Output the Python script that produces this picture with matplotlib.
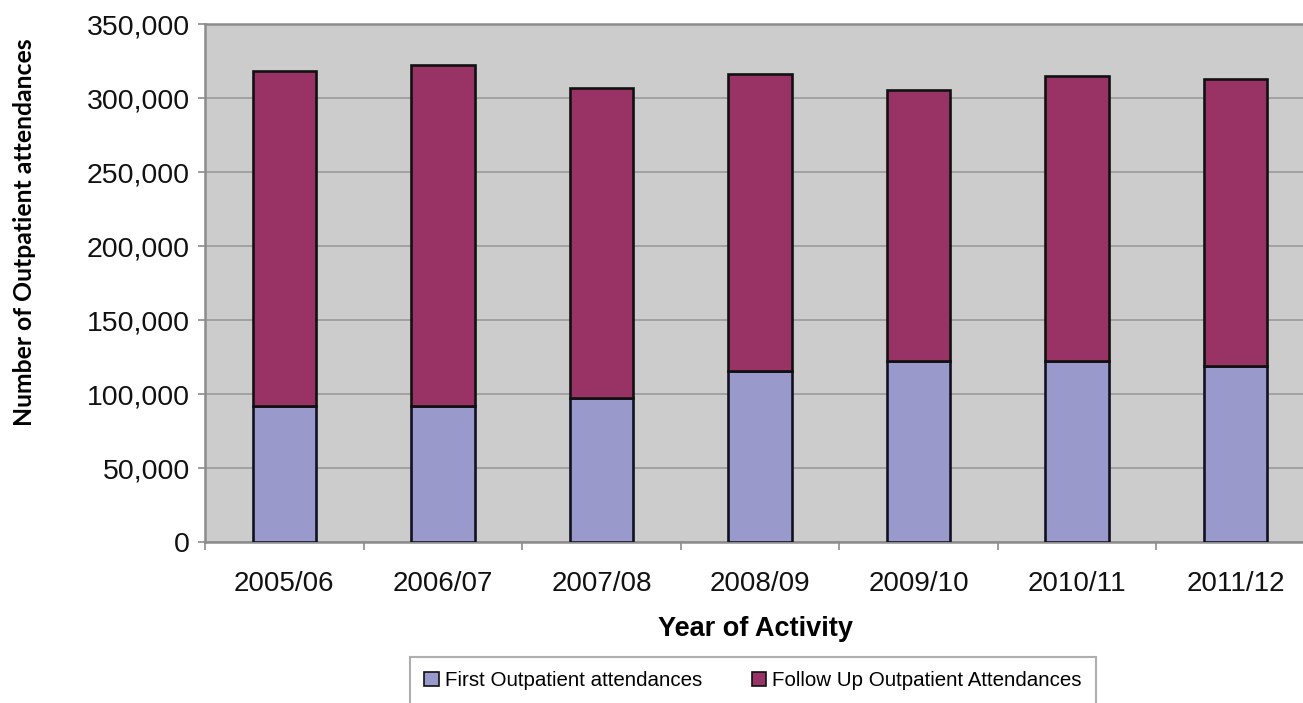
import matplotlib.pyplot as plt
import matplotlib.ticker as mticker
from matplotlib.patches import Patch
import numpy as np

years = ['2005/06', '2006/07', '2007/08', '2008/09', '2009/10', '2010/11', '2011/12']
first = [92000, 92000, 97000, 115700, 122300, 122500, 119000]
followup = [226200, 230600, 209800, 200800, 182900, 192200, 193600]

first_col = '#9999cc'
follow_col = '#993366'
grey = '#8c8c8c'

fig = plt.figure(figsize=(13.03, 7.03), dpi=100)
# plot area runs off the right edge of the picture, as in the original
ax = fig.add_axes([205/1303, 1 - 542/703, 1110/1303, 518/703])
ax.set_facecolor('#cccccc')

x = np.arange(len(years))
ax.bar(x, first, width=0.4, color=first_col, edgecolor='#111122', linewidth=1.9, zorder=3)
ax.bar(x, followup, width=0.4, bottom=first, color=follow_col, edgecolor='#111111',
       linewidth=1.9, zorder=3)

ax.set_xlim(-0.5, len(years) - 0.5)
ax.set_ylim(0, 350000)
ax.yaxis.set_major_locator(mticker.MultipleLocator(50000))
ax.yaxis.set_major_formatter(mticker.FuncFormatter(lambda v, p: f'{int(v):,}'))

# gridlines
ax.grid(axis='y', color='#9e9e9e', linewidth=1.3, zorder=1)
ax.set_axisbelow(True)

# x ticks at category boundaries, labels centred
ax.set_xticks(np.arange(-0.5, len(years) + 0.5, 1))
ax.set_xticklabels([])
ax.set_xticks(x, minor=True)
ax.set_xticklabels(years, minor=True, fontsize=20, family='Liberation Sans', color='#111111')
ax.tick_params(axis='x', which='minor', length=0, pad=21)
ax.tick_params(axis='x', which='major', length=6, color=grey, width=1.2)
ax.tick_params(axis='y', length=5, color=grey, width=1.2, pad=6)
for lab in ax.get_yticklabels():
    lab.set_fontsize(20.5)
    lab.set_family('Liberation Sans')
    lab.set_color('#111111')

for s in ['left', 'bottom', 'top']:
    ax.spines[s].set_color(grey)
    ax.spines[s].set_linewidth(1.8)
ax.spines['right'].set_visible(False)

fig.text(756/1303, 1 - 629/703, 'Year of Activity', ha='center', va='center',
         fontsize=19.5, fontweight='bold', family='Liberation Sans')
fig.text(25/1303, 1 - 232/703, 'Number of Outpatient attendances', rotation=90,
         ha='center', va='center', fontsize=17.8, fontweight='bold', family='Lato')

handles = [Patch(facecolor=first_col, edgecolor='#111111', linewidth=1.2),
           Patch(facecolor=follow_col, edgecolor='#111111', linewidth=1.2)]
leg = fig.legend(handles, ['First Outpatient attendances', 'Follow Up Outpatient Attendances'],
                 loc='upper center', bbox_to_anchor=(753/1303, 1 - 657/703), ncol=2,
                 frameon=True, fancybox=False, prop={'family': 'Liberation Sans', 'size': 14.8},
                 handlelength=0.7, handleheight=0.7, handletextpad=0.3, columnspacing=2.4,
                 borderpad=0.7, borderaxespad=0)
leg.get_frame().set_edgecolor('#9a9a9a')
leg.get_frame().set_linewidth(1.5)

fig.savefig('out.png', dpi=100)
